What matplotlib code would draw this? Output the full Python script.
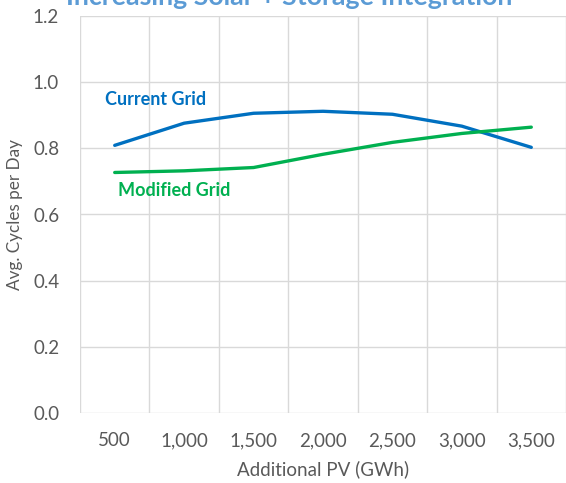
import matplotlib as mpl
import matplotlib.pyplot as plt
import numpy as np

mpl.rcParams['font.family'] = ['Lato', 'DejaVu Sans']

pv_labels = ['500', '1,000', '1,500', '2,000', '2,500', '3,000', '3,500']
current_grid = [0.809, 0.876, 0.906, 0.912, 0.903, 0.867, 0.803]
modified_grid = [0.727, 0.732, 0.742, 0.782, 0.818, 0.845, 0.864]

grey = '#595959'
blue = '#0070C0'
green = '#00B050'

fig = plt.figure(figsize=(5.66, 4.83), dpi=100)
ax = fig.add_axes([80/566, 70/483, 486/566, 397/483])

x = np.arange(len(pv_labels))
ax.plot(x, current_grid, color=blue, lw=2.4, solid_capstyle='round', zorder=3)
ax.plot(x, modified_grid, color=green, lw=2.4, solid_capstyle='round', zorder=3)

ax.set_xlim(-0.5, len(pv_labels) - 0.5)
ax.set_ylim(0, 1.2)
yt = np.arange(0, 1.21, 0.2)
ax.set_yticks(yt)
ax.set_yticklabels(['%.1f' % v for v in yt])
ax.set_xticks(x)
ax.set_xticklabels(pv_labels)
ax.set_xticks(np.arange(-0.5, len(pv_labels)), minor=True)

ax.grid(True, axis='y', color='#D9D9D9', lw=1)
ax.grid(True, axis='x', which='minor', color='#D9D9D9', lw=1)
ax.tick_params(axis='both', which='both', length=0, colors=grey, labelsize=13.5)
ax.tick_params(axis='x', pad=14)
ax.tick_params(axis='y', pad=15)
for s in ax.spines.values():
    s.set_visible(False)

ax.set_xlabel('Additional PV (GWh)', color=grey, fontsize=13.5, labelpad=8)
ax.set_ylabel('Avg. Cycles per Day', color=grey, fontsize=12.3)
ax.yaxis.set_label_coords(-0.117, 0.5)

# series labels, placed in data coords
ax.text(0.59, 0.948, 'Current Grid', color=blue, fontsize=13, fontweight='bold', va='center', ha='center')
ax.text(0.86, 0.673, 'Modified Grid', color=green, fontsize=13, fontweight='bold', va='center', ha='center')

fig.text(289/566, 1 - 5/483, 'Increasing Solar + Storage Integration', color='#5B9BD5',
         fontsize=19.3, fontweight='bold', ha='center', va='baseline')

fig.savefig('out.png', dpi=100)
